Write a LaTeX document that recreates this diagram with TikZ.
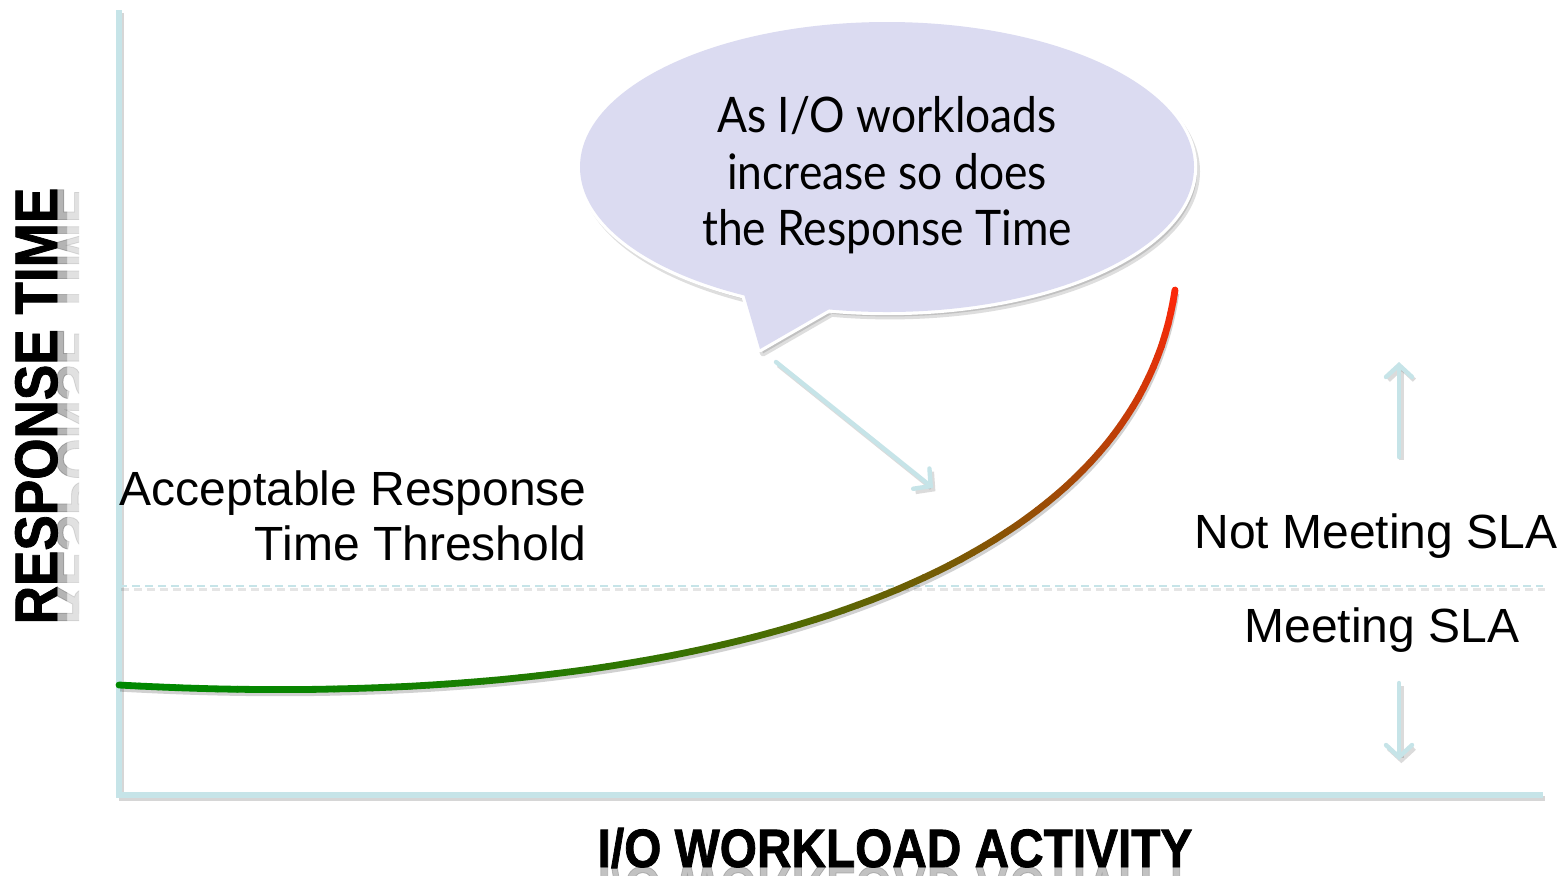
\documentclass[tikz,border=0pt]{standalone}
\usepackage{fontspec}
\setmainfont{Liberation Sans}
\newfontfamily\calloutfont{Lato}
\newfontfamily\heavyfont[BoldFeatures={FakeBold=1.5}]{Liberation Sans}
\usetikzlibrary{arrows.meta}
\definecolor{axiscol}{RGB}{198,228,232}
\definecolor{bubble}{RGB}{219,219,241}
\definecolor{curvegreen}{RGB}{0,136,0}
\definecolor{curvered}{RGB}{255,38,10}
\definecolor{labelgray}{RGB}{120,120,120}

\begin{document}
\begin{tikzpicture}[x=0.5pt,y=-0.5pt,
  axis/.style={draw=axiscol, line width=2.6pt, line join=miter},
  softshadow/.style={draw=black, opacity=0.16, transform canvas={shift={(1.2pt,-1.6pt)}}},
  threshold/.style={draw=axiscol, line width=1.3pt, dash pattern=on 4pt off 2.5pt},
  pointer/.style={draw=axiscol, line width=2.2pt, line cap=round,
    -{Straight Barb[length=6pt,width=13pt,line cap=round]}},
  pointershadow/.style={draw=black, opacity=0.14, line width=2.2pt,
    -{Straight Barb[length=6pt,width=13pt]},
    transform canvas={shift={(1.2pt,-1.6pt)}}},
  plainlabel/.style={font=\fontsize{24}{28}\selectfont, inner sep=0pt},
  bubbletext/.style={font=\calloutfont\fontsize{24.5}{28}\selectfont, inner sep=0pt},
  axislabel/.style={inner sep=0pt},
  declare function={
    bx(\t)=(1-\t)^3*119+3*(1-\t)^2*\t*650+3*(1-\t)*\t^2*1130+\t^3*1175;
    by(\t)=(1-\t)^3*685+3*(1-\t)^2*\t*715+3*(1-\t)*\t^2*600+\t^3*290;
  }
]
\useasboundingbox (0,0) rectangle (1568,875);
\fill[white] (0,0) rectangle (1568,875);

% axes and threshold
\coordinate (ytop) at (119,10);
\coordinate (origin) at (119,795);
\coordinate (xend) at (1543,795);
\coordinate (thrL) at (119,586);
\coordinate (thrR) at (1543,586);

\draw[softshadow, line width=2.6pt] (ytop) -- (origin) -- (xend);
\draw[axis] (ytop) -- (origin) -- (xend);
\draw[softshadow, line width=1.3pt, dash pattern=on 4pt off 2.5pt, opacity=0.1] (thrL) -- (thrR);
\draw[threshold] (thrL) -- (thrR);

% response time curve, green to red
\draw[black, opacity=0.18, line width=3pt, transform canvas={shift={(0.6pt,-1.8pt)}}]
  (119,685) .. controls (650,715) and (1130,600) .. (1175,290);
\foreach \i in {0,...,79}{
  \pgfmathsetmacro\ta{\i/80}
  \pgfmathsetmacro\tb{(\i+1)/80}
  \pgfmathtruncatemacro\mixpct{100*\ta*sqrt(\ta)}
  \draw[curvered!\mixpct!curvegreen, line width=3.4pt, line cap=round]
    ({bx(\ta)},{by(\ta)}) -- ({bx(\tb)},{by(\tb)});
}

% speech bubble
\coordinate (bc) at (887,167);
\coordinate (tailL) at (742,287);
\coordinate (tip) at (760,349);
\coordinate (tailR) at (845,300);
\filldraw[black, opacity=0.13, line width=3pt, line join=round,
  transform canvas={shift={(1.5pt,-2.2pt)}}]
  (bc) ellipse [x radius=307, y radius=145]
  (tailL) -- (tip) -- (tailR) -- cycle;
\draw[white, line width=3.2pt, line join=round]
  (bc) ellipse [x radius=307, y radius=145]
  (tailL) -- (tip) -- (tailR) -- cycle;
\fill[bubble] (bc) ellipse [x radius=307, y radius=145];
\fill[bubble] (tailL) -- (tip) -- (tailR) -- cycle;

\node[bubbletext, anchor=base] (b1) at (887,132) {\scalebox{0.905}[1]{As I/O workloads}};
\node[bubbletext, anchor=base] (b2) at (887,189) {\scalebox{0.905}[1]{increase so does}};
\node[bubbletext, anchor=base] (b3) at (887,245) {\scalebox{0.905}[1]{the Response Time}};

% pointer arrows
\coordinate (pA) at (776,362);
\coordinate (pB) at (933,488);
\coordinate (upA) at (1399,457);
\coordinate (upB) at (1399,362);
\coordinate (dnA) at (1399,683);
\coordinate (dnB) at (1399,760);
\draw[pointershadow] (pA) -- (pB);
\draw[pointershadow] (upA) -- (upB);
\draw[pointershadow] (dnA) -- (dnB);
\draw[pointer] (pA) -- (pB);
\draw[pointer] (upA) -- (upB);
\draw[pointer] (dnA) -- (dnB);

% region labels
\node[plainlabel, anchor=base east] (acc1) at (587,505) {Acceptable Response};
\node[plainlabel, anchor=base east] (acc2) at (587,560) {Time Threshold};
\node[plainlabel, anchor=base] (notmeet) at (1376,548) {Not Meeting SLA};
\node[plainlabel, anchor=base] (meet) at (1382,642) {Meeting SLA};

% axis titles with reflections
\newcommand{\ytitle}{\heavyfont\bfseries\fontsize{30}{30}\selectfont\scalebox{0.885}[1]{RESPONSE TIME}}
\newcommand{\xtitle}{\heavyfont\bfseries\fontsize{27}{27}\selectfont\scalebox{0.885}[1]{I/O WORKLOAD ACTIVITY}}
\begin{scope}
  \clip (57,150) rectangle (67,660);
  \node[axislabel, rotate=90, anchor=base, text=labelgray, opacity=0.55] (yref1) at (57,406) {\scalebox{1}[-1]{\ytitle}};
\end{scope}
\begin{scope}
  \clip (67,150) rectangle (79,660);
  \node[axislabel, rotate=90, anchor=base, text=labelgray, opacity=0.22] (yref2) at (57,406) {\scalebox{1}[-1]{\ytitle}};
\end{scope}
\node[axislabel, rotate=90, anchor=base] (ytitle) at (57,406) {\ytitle};

\begin{scope}
  \clip (500,867) rectangle (1300,875);
  \node[axislabel, anchor=base, text=labelgray, opacity=0.45] (xref) at (895,867) {\scalebox{1}[-1]{\xtitle}};
\end{scope}
\node[axislabel, anchor=base] (xtitle) at (895,867) {\xtitle};
\end{tikzpicture}
\end{document}
